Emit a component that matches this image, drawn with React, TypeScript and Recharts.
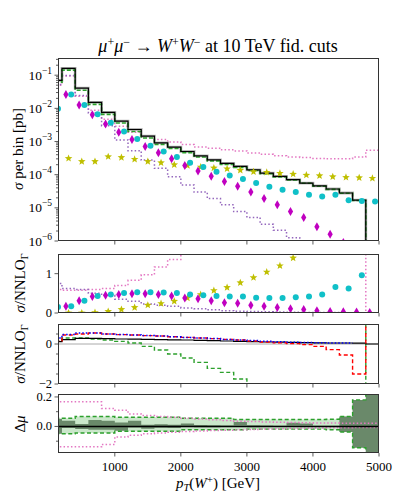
import React from 'react';
import {
  ComposedChart,
  Line,
  Area,
  Scatter,
  XAxis,
  YAxis,
  ReferenceLine,
} from 'recharts';

// bin left edges (GeV), last bin is [4800, 5000]
const BIN_EDGES = [
  0, 200, 400, 600, 800, 1000, 1200, 1400, 1600, 1800, 2000, 2200, 2400,
  2600, 2800, 3000, 3200, 3400, 3600, 3800, 4000, 4200, 4400, 4600, 4800,
];
const X_END = 5000;
const X_TICKS = [1000, 2000, 3000, 4000, 5000];

// empty bin: drawn as a drop off the bottom of the log axis
const EMPTY = 1e-12;

// ---- top panel: sigma per bin [pb] ----
const NNLO_XS = [
  0.07, 0.16, 0.041, 0.0152, 0.0076, 0.0041, 0.0023, 0.00145, 0.00091, 0.00068,
  0.0005, 0.00037, 0.00028, 0.00022, 0.000178, 0.00014, 0.000112, 0.000089,
  0.000071, 0.000056, 0.000046, 0.000037, 0.000028, 0.000017, EMPTY,
];
const GREEN_XS = [
  0.062, 0.142, 0.035, 0.0132, 0.0066, 0.0036, 0.002, 0.00128, 0.00082,
  0.00062, 0.00046, 0.00034, 0.00026, 0.000205, 0.000165, 0.000133, 0.000107,
  0.000086, 0.000069, 0.000055, 0.000045, 0.000036, 0.0000275, 0.0000167, EMPTY,
];
const PINK_XS = [
  0.05, 0.095, 0.023, 0.0088, 0.0047, 0.0029, 0.0019, 0.00138, 0.00115,
  0.00096, 0.00081, 0.00068, 0.00063, 0.00056, 0.00052, 0.00045, 0.00041,
  0.00037, 0.00034, 0.00033, 0.00031, 0.0003, 0.0003, 0.00034, 0.00055,
];
const PURPLE_XS = [
  0.052, 0.098, 0.0245, 0.0072, 0.003, 0.00112, 0.00053, 0.000275, 0.000155,
  0.000087, 0.000049, 0.00003, 0.000019, 0.0000123, 0.0000077, 0.0000051,
  0.0000032, 0.0000021, 0.00000126, 0.0000008, 0.0000005, 0.0000003,
  0.0000002, 0.0000001, 0.0000001,
];
// points start at bin [200,400]
const MAGENTA_XS = [
  0.026, 0.0126, 0.0064, 0.0034, 0.0019, 0.00115, 0.00071, 0.00046, 0.0003,
  0.00019, 0.00013, 0.000089, 0.000062, 0.000045, 0.00003, 0.000019, 0.0000123,
  0.0000078, 0.0000051, 0.0000027, 0.0000016, 0.0000009, 0.0000005, 0.0000003,
];
// points start at bin [0,200]
const CYAN_XS = [
  0.0098, 0.026, 0.0126, 0.0066, 0.0037, 0.002, 0.0012, 0.00075, 0.0005,
  0.00034, 0.00023, 0.00017, 0.000123, 0.000095, 0.000074, 0.000056, 0.000043,
  0.000035, 0.00003, 0.000025, 0.000022, 0.000025, 0.000017, 0.000016,
  0.0000155,
];
// points start at bin [200,400]
const YELLOW_XS = [
  0.00031, 0.00025, 0.00025, 0.00035, 0.00033, 0.00029, 0.00025, 0.00023,
  0.0002, 0.00019, 0.00017, 0.00016, 0.00015, 0.000136, 0.000123, 0.000118,
  0.00011, 0.000104, 0.000097, 0.000093, 0.000087, 0.000083, 0.000081,
  0.000078,
];

// ---- second panel: sigma / NNLO_Gamma ----
const PINK_R = [
  0.6, 0.58, 0.58, 0.6, 0.62, 0.7, 0.83, 0.97, 1.17, 1.36, 1.6, 1.8, 2.25, 2.5,
  2.9, 3.2, 3.7, 4.2, 4.8, 5.9, 6.7, 8.1, 10.7, 20, 0,
];
const PURPLE_R = [
  0.75, 0.62, 0.6, 0.5, 0.45, 0.35, 0.3, 0.23, 0.2, 0.17, 0.13, 0.11, 0.08,
  0.06, 0.045, 0.035, 0.03, 0.025, 0.02, 0.015, 0.012, 0.01, 0.008, 0.006,
  0.005,
];
const MAGENTA_R = [
  0.17, 0.31, 0.42, 0.45, 0.47, 0.49, 0.49, 0.47, 0.43, 0.38, 0.36, 0.31, 0.26,
  0.25, 0.2, 0.17, 0.14, 0.11, 0.09, 0.06, 0.04, 0.03, 0.025, 0.01,
];
const CYAN_R = [
  0.15, 0.17, 0.31, 0.43, 0.47, 0.51, 0.53, 0.53, 0.52, 0.51, 0.47, 0.45, 0.43,
  0.42, 0.42, 0.39, 0.38, 0.38, 0.4, 0.42, 0.47, 0.66, 0.62, 0.96,
];
const YELLOW_R = [
  0.0, 0.0, 0.01, 0.04, 0.09, 0.14, 0.2, 0.24, 0.3, 0.38, 0.47, 0.57, 0.65,
  0.77, 0.9, 1.04, 1.2, 1.4,
];

// ---- third panel ----
const BLACK_R3 = [
  0.12, 0.22, 0.28, 0.28, 0.27, 0.25, 0.24, 0.23, 0.22, 0.21, 0.2, 0.18, 0.17,
  0.15, 0.13, 0.12, 0.1, 0.09, 0.08, 0.07, 0.06, 0.05, 0.05, 0.04, 0,
];
const RED_R3 = [
  0.15, 0.45, 0.5, 0.55, 0.5, 0.47, 0.45, 0.42, 0.4, 0.36, 0.33, 0.3, 0.27,
  0.23, 0.2, 0.15, 0.1, 0.06, 0.02, -0.03, -0.12, -0.28, -0.55, -1.5, 5,
];
const BLUE_R3 = [
  0.3, 0.48, 0.55, 0.55, 0.5, 0.47, 0.45, 0.42, 0.4, 0.36, 0.33, 0.3, 0.27,
  0.23, 0.2, 0.17, 0.14, 0.11, 0.09, 0.07, 0.06, 0.05, 0.05,
];
const GREEN_R3 = [
  0.17, 0.3, 0.3, 0.25, 0.2, 0.13, 0.05, -0.12, -0.3, -0.5, -0.7, -0.92, -1.22,
  -1.42, -1.75, -2.3, -2.7, -3.1, -3.6, -4.2, -4.9, -5.7, -6.8, -9, 5,
];

// ---- bottom panel: delta mu ----
const BAND_HI = [
  0.056, 0.056, 0.067, 0.067, 0.067, 0.062, 0.062, 0.062, 0.062, 0.062, 0.056,
  0.056, 0.056, 0.056, 0.047, 0.047, 0.047, 0.047, 0.047, 0.047, 0.047, 0.049,
  0.067, 0.18, 0.3,
];
const BAND_LO = [
  -0.049, -0.049, -0.044, -0.044, -0.044, -0.033, -0.033, -0.033, -0.033,
  -0.033, -0.022, -0.022, -0.022, -0.022, -0.022, -0.018, -0.018, -0.018,
  -0.018, -0.018, -0.018, -0.022, -0.038, -0.144, -0.3,
];
const DARK_HI = [
  0.05, 0.038, 0.016, 0.044, 0.038, 0.027, 0.038, 0.011, 0.015, 0.012, 0.02,
  0.01, 0.008, 0.006, 0.03, 0.008, 0.006, 0.005, 0.025, 0.02, 0.005, 0.005,
  0.067, 0.18, 0.3,
];
const DARK_LO = [
  -0.05, -0.011, -0.018, -0.022, -0.022, -0.029, -0.007, -0.016, -0.008, -0.01,
  -0.004, -0.006, -0.005, -0.004, 0.005, -0.005, -0.004, -0.004, 0.005, 0.005,
  -0.004, -0.004, -0.038, -0.144, -0.3,
];
const PINK_D_HI = [
  0.167, 0.167, 0.167, 0.167, 0.122, 0.11, 0.085, 0.075, 0.068, 0.062, 0.055,
  0.05, 0.045, 0.04, 0.036, 0.033, 0.03, 0.028, 0.026, 0.025, 0.024, 0.023,
  0.022, 0.022, 0.022,
];
const PINK_D_LO = [
  -0.138, -0.138, -0.138, -0.138, -0.122, -0.071, -0.06, -0.05, -0.045, -0.04,
  -0.035, -0.03, -0.028, -0.025, -0.022, -0.02, -0.018, -0.016, -0.014, -0.012,
  -0.01, -0.009, -0.008, -0.007, -0.007,
];

const LOG_MAJOR = [1e-6, 1e-5, 1e-4, 1e-3, 1e-2, 1e-1];

const FONT = '"Liberation Serif", "DejaVu Serif", serif';
const AXIS = '#333';
const C_PINK = '#e377c2';
const C_PURPLE = '#9467bd';
const C_GREEN = '#2ca02c';
const C_MAGENTA = '#c000c0';
const C_CYAN = '#10c0c8';
const C_YELLOW = '#bfbf00';

const PLOT_L = 58;
const PLOT_R = 379;
const PANELS = [
  { top: 58, h: 183 },
  { top: 254, h: 59 },
  { top: 324, h: 60 },
  { top: 394, h: 59 },
];

const i2x = (n: number) => (n < BIN_EDGES.length ? BIN_EDGES[n] : X_END);

// step histogram table: value at each left edge, repeated at the right end
const steps = (vals: number[]) =>
  vals
    .map((y, i) => ({ x: BIN_EDGES[i], y }))
    .concat({ x: i2x(vals.length), y: vals[vals.length - 1] });

const bandSteps = (lo: number[], hi: number[]) =>
  lo
    .map((l, i) => ({ x: BIN_EDGES[i], y: [l, hi[i]] }))
    .concat({ x: X_END, y: [lo[lo.length - 1], hi[hi.length - 1]] });

// points at bin centres, shifted sideways like the original
const points = (vals: number[], firstBin: number, shift: number) =>
  vals.map((y, i) => ({ x: BIN_EDGES[firstBin + i] + 100 + shift, y }));

const logTicks = LOG_MAJOR.flatMap((d) =>
  [1, 2, 3, 4, 5, 6, 7, 8, 9].map((m) => d * m)
).filter((v) => v <= 0.33);

const Dot = (p: any) =>
  p.cx == null || isNaN(p.cy) ? <g /> : <circle cx={p.cx} cy={p.cy} r={3} fill={C_CYAN} />;

const Diamond = (p: any) => {
  if (p.cx == null || isNaN(p.cy)) return <g />;
  const { cx, cy } = p;
  return (
    <polygon
      points={`${cx},${cy - 4.5} ${cx + 2.6},${cy} ${cx},${cy + 4.5} ${cx - 2.6},${cy}`}
      fill={C_MAGENTA}
    />
  );
};

const Star = (p: any) => {
  if (p.cx == null || isNaN(p.cy)) return <g />;
  const pts: string[] = [];
  for (let i = 0; i < 10; i++) {
    const r = i % 2 === 0 ? 4 : 1.7;
    const a = -Math.PI / 2 + (i * Math.PI) / 5;
    pts.push(`${p.cx + r * Math.cos(a)},${p.cy + r * Math.sin(a)}`);
  }
  return <polygon points={pts.join(' ')} fill={C_YELLOW} />;
};

const LogTick = ({ x, y, payload }: any) => {
  const lg = Math.log10(payload.value);
  const e = Math.round(lg);
  const major = Math.abs(lg - e) < 1e-6;
  return (
    <g>
      <line x1={x} x2={x - (major ? 3.5 : 2)} y1={y} y2={y} stroke={AXIS} strokeWidth={0.8} />
      {major && (
        <text x={x - 6} y={y + 4.5} textAnchor="end" fontSize={13.5} fontFamily={FONT} fill="#000">
          10
          <tspan dy={-6} fontSize={9.5}>
            {'\u2212' + -e}
          </tspan>
        </text>
      )}
    </g>
  );
};

const linTick = (labels: Record<string, string>) => ({ x, y, payload }: any) => {
  const lab = labels[String(payload.value)];
  return (
    <g>
      <line x1={x} x2={x - (lab ? 3.5 : 2)} y1={y} y2={y} stroke={AXIS} strokeWidth={0.8} />
      {lab && (
        <text x={x - 6} y={y + 4} textAnchor="end" fontSize={12.5} fontFamily={FONT} fill="#000">
          {lab}
        </text>
      )}
    </g>
  );
};

const xTick = (labels: boolean) => ({ x, y, payload }: any) => (
  <g>
    <line x1={x} x2={x} y1={y} y2={y + 3.5} stroke={AXIS} strokeWidth={0.8} />
    {labels && (
      <text x={x} y={y + 17.5} textAnchor="middle" fontSize={13} fontFamily={FONT} fill="#000">
        {payload.value}
      </text>
    )}
  </g>
);

function Panel({
  idx,
  yDomain,
  yScale,
  yTicks,
  yTick,
  showX,
  children,
}: {
  idx: number;
  yDomain: [number, number];
  yScale?: 'log' | 'linear';
  yTicks: number[];
  yTick: any;
  showX?: boolean;
  children: React.ReactNode;
}) {
  const { top, h } = PANELS[idx];
  return (
    <div style={{ position: 'absolute', left: 0, top: top - 5 }}>
      <ComposedChart
        width={400}
        height={h + 35}
        margin={{ top: 5, right: 400 - PLOT_R, bottom: 0, left: 0 }}
      >
        <XAxis
          dataKey="x"
          type="number"
          domain={[140, X_END]}
          allowDataOverflow
          ticks={X_TICKS}
          axisLine={false}
          tickLine={false}
          tickSize={0}
          tickMargin={0}
          height={30}
          tick={xTick(!!showX)}
          interval={0}
        />
        <YAxis
          dataKey="y"
          type="number"
          scale={yScale || 'linear'}
          domain={yDomain}
          allowDataOverflow
          ticks={yTicks}
          axisLine={false}
          tickLine={false}
          tickSize={0}
          tickMargin={0}
          width={PLOT_L}
          tick={yTick}
          interval={0}
        />
        {children}
      </ComposedChart>
      <div
        style={{
          position: 'absolute',
          left: PLOT_L,
          top: 5,
          width: PLOT_R - PLOT_L,
          height: h,
          border: `1px solid ${AXIS}`,
          boxSizing: 'border-box',
          pointerEvents: 'none',
        }}
      />
    </div>
  );
}

const stepLine = (
  key: string,
  vals: number[],
  stroke: string,
  width: number,
  dash?: string
) => (
  <Line
    key={key}
    data={steps(vals)}
    dataKey="y"
    type="stepAfter"
    stroke={stroke}
    strokeWidth={width}
    strokeDasharray={dash}
    dot={false}
    activeDot={false}
    isAnimationActive={false}
  />
);

const scatter = (key: string, data: any[], shape: any) => (
  <Scatter key={key} data={data} dataKey="y" shape={shape} isAnimationActive={false} />
);

export default function App() {
  const tspanSup = (s: string) => (
    <tspan dy={-6} fontSize={12}>
      {s}
    </tspan>
  );
  return (
    <div
      style={{
        position: 'absolute',
        left: 0,
        top: 0,
        width: 400,
        height: 498,
        background: '#fff',
        fontFamily: FONT,
      }}
    >
      <Panel idx={0} yDomain={[1e-6, 0.33]} yScale="log" yTicks={logTicks} yTick={LogTick}>
        {stepLine('pink', PINK_XS, C_PINK, 1.5, '1.5 2.2')}
        {stepLine('purple', PURPLE_XS, C_PURPLE, 1.5, '1.5 2.2')}
        {stepLine('band', NNLO_XS, '#b8b8b8', 2.8)}
        {stepLine('green', GREEN_XS, C_GREEN, 1.6, '4 2')}
        {stepLine('black', NNLO_XS, '#000', 1.2)}
        {scatter('yellow', points(YELLOW_XS, 1, 0), Star)}
        {scatter('magenta', points(MAGENTA_XS, 1, -40), Diamond)}
        {scatter('cyan', points(CYAN_XS, 0, 40), Dot)}
      </Panel>

      <Panel idx={1} yDomain={[0, 1.5]} yTicks={[0, 1]} yTick={linTick({ '0': '0', '1': '1' })}>
        {stepLine('pink', PINK_R, C_PINK, 1.5, '1.5 2.2')}
        {stepLine('purple', PURPLE_R, C_PURPLE, 1.5, '1.5 2.2')}
        {scatter('yellow', points(YELLOW_R, 1, 0), Star)}
        {scatter('magenta', points(MAGENTA_R, 1, -40), Diamond)}
        {scatter('cyan', points(CYAN_R, 0, 40), Dot)}
      </Panel>

      <Panel
        idx={2}
        yDomain={[-2, 1]}
        yTicks={[-2, -1.5, -1, -0.5, 0, 0.5]}
        yTick={linTick({ '-2': '\u22122', '0': '0' })}
      >
        <ReferenceLine y={0} stroke="#aaa" strokeWidth={1} />
        {stepLine('green', GREEN_R3, C_GREEN, 1.4, '4 2.5')}
        {stepLine('black', BLACK_R3, '#000', 1.2)}
        {stepLine('red', RED_R3, '#ff0000', 1.4, '4 2.5')}
        {stepLine('blue', BLUE_R3, '#0000ff', 1.5, '1.5 2')}
      </Panel>

      <Panel
        idx={3}
        yDomain={[-0.18, 0.22]}
        yTicks={[-0.1, 0, 0.1, 0.2]}
        yTick={linTick({ '0': '0.0', '0.2': '0.2' })}
        showX
      >
        <Area
          data={bandSteps(BAND_LO, BAND_HI)}
          dataKey="y"
          type="stepAfter"
          fill={C_GREEN}
          fillOpacity={0.25}
          stroke="none"
          isAnimationActive={false}
        />
        <Area
          data={bandSteps(DARK_LO, DARK_HI)}
          dataKey="y"
          type="stepAfter"
          fill="#4a6a4a"
          fillOpacity={0.75}
          stroke="none"
          isAnimationActive={false}
        />
        {stepLine('gHi', BAND_HI, C_GREEN, 1.4, '4 2.5')}
        {stepLine('gLo', BAND_LO, C_GREEN, 1.4, '4 2.5')}
        {stepLine('pHi', PINK_D_HI, C_PINK, 1.5, '1.5 2.2')}
        {stepLine('pLo', PINK_D_LO, C_PINK, 1.5, '1.5 2.2')}
        <ReferenceLine y={0} stroke="#000" strokeWidth={1.5} />
      </Panel>

      <svg
        width={400}
        height={498}
        style={{ position: 'absolute', left: 0, top: 0, pointerEvents: 'none' }}
      >
        <g fontFamily={FONT} fill="#000">
          <text x={218} y={52} textAnchor="middle" fontSize={18}>
            <tspan fontStyle="italic">μ</tspan>
            {tspanSup('+')}
            <tspan dy={6} fontStyle="italic">μ</tspan>
            {tspanSup('\u2212')}
            <tspan dy={6}> → </tspan>
            <tspan fontStyle="italic">W</tspan>
            {tspanSup('+')}
            <tspan dy={6} fontStyle="italic">W</tspan>
            {tspanSup('\u2212')}
            <tspan dy={6}> at 10 TeV fid. cuts</tspan>
          </text>

          <text transform="translate(23,149) rotate(-90)" textAnchor="middle" fontSize={15}>
            <tspan fontStyle="italic">σ</tspan> per bin [pb]
          </text>
          <text transform="translate(25,283) rotate(-90)" textAnchor="middle" fontSize={15}>
            <tspan fontStyle="italic">σ</tspan>/NNLO
            <tspan dy={3} fontSize={10.5}>Γ</tspan>
          </text>
          <text transform="translate(25,354) rotate(-90)" textAnchor="middle" fontSize={15}>
            <tspan fontStyle="italic">σ</tspan>/NNLO
            <tspan dy={3} fontSize={10.5}>Γ</tspan>
          </text>
          <text transform="translate(25,424) rotate(-90)" textAnchor="middle" fontSize={15}>
            Δ<tspan fontStyle="italic">μ</tspan>
          </text>

          <text x={218} y={488} textAnchor="middle" fontSize={15}>
            <tspan fontStyle="italic">p</tspan>
            <tspan dy={3} fontSize={10.5} fontStyle="italic">T</tspan>
            <tspan dy={-3}>(</tspan>
            <tspan fontStyle="italic">W</tspan>
            <tspan dy={-5.5} fontSize={11}>+</tspan>
            <tspan dy={5.5}>) [GeV]</tspan>
          </text>
        </g>
      </svg>
    </div>
  );
}
